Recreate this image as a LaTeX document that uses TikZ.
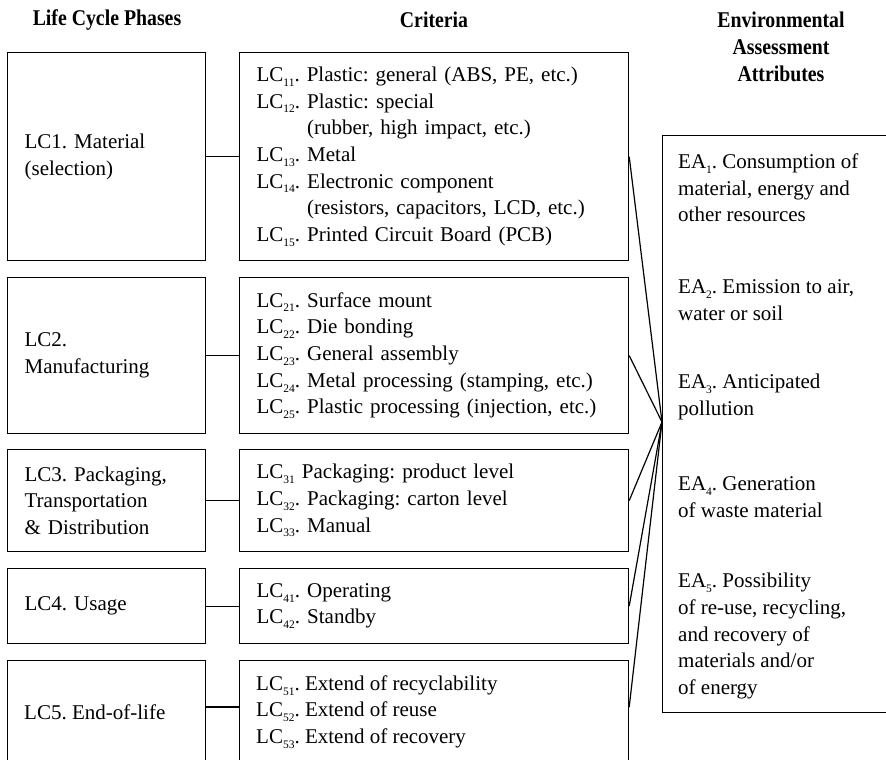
\documentclass[tikz,border=0pt]{standalone}
\usepackage{fontspec}
\setmainfont{Liberation Serif}
\newfontfamily\hdrfont[FakeStretch=0.88]{Liberation Serif}
\newcommand{\lcs}[1]{\raisebox{-0.5ex}{\fontsize{11.5}{11.5}\selectfont #1}}
\newcommand{\ind}{\hphantom{LC\lcs{12}.}\ }
\frenchspacing
\begin{document}
\begin{tikzpicture}[x=1pt,y=-1pt,
  every node/.style={font=\frenchspacing\fontsize{21}{26.7}\selectfont},
  box/.style={draw,line width=1.2pt,anchor=north west,align=left,inner xsep=17pt,inner ysep=0pt},
  lbox/.style={box,text width=164pt},
  cbox/.style={box,text width=355pt},
  txt/.style={anchor=west,align=left,inner sep=0pt},
  hdr/.style={font=\hdrfont\bfseries\fontsize{22.5}{27}\selectfont,align=center,inner sep=0pt},
  conn/.style={line width=1.2pt}]
\clip (0,0) rectangle (886,760);
\useasboundingbox (0,0) rectangle (886,760);

% headers
\node[hdr] (h1) at (107,20) {Life Cycle Phases};
\node[hdr] (h2) at (434,20) {Criteria};
\node[hdr] (h3) at (781,47) {Environmental\\Assessment\\Attributes};

% left boxes
\node[lbox,minimum height=208pt] (lc1) at (7,52) {LC1. Material\\(selection)};
\node[lbox,minimum height=156pt] (lc2) at (7,277) {LC2.\\Manufacturing};
\node[lbox,minimum height=102pt] (lc3) at (7,449) {LC3. Packaging,\\Transportation\\\& Distribution};
\node[lbox,minimum height=75pt] (lc4) at (7,568) {LC4. Usage};
\node[lbox,minimum height=200pt] (lc5) at (7,660) {};
\node[txt] (lc5t) at (24,712) {LC5. End-of-life};

% criteria boxes
\node[cbox,minimum height=208pt] (cr1) at (239,52) {%
LC\lcs{11}. Plastic: general (ABS, PE, etc.)\\
LC\lcs{12}. Plastic: special\\
\ind(rubber, high impact, etc.)\\
LC\lcs{13}. Metal\\
LC\lcs{14}. Electronic component\\
\ind(resistors, capacitors, LCD, etc.)\\
LC\lcs{15}. Printed Circuit Board (PCB)};
\node[cbox,minimum height=156pt] (cr2) at (239,277) {%
LC\lcs{21}. Surface mount\\
LC\lcs{22}. Die bonding\\
LC\lcs{23}. General assembly\\
LC\lcs{24}. Metal processing (stamping, etc.)\\
LC\lcs{25}. Plastic processing (injection, etc.)};
\node[cbox,minimum height=102pt] (cr3) at (239,449) {%
LC\lcs{31} Packaging: product level\\
LC\lcs{32}. Packaging: carton level\\
LC\lcs{33}. Manual};
\node[cbox,minimum height=75pt] (cr4) at (239,568) {%
LC\lcs{41}. Operating\\
LC\lcs{42}. Standby};
\node[cbox,minimum height=200pt] (cr5) at (239,660) {};
\node[txt] (cr5t) at (256,712) {%
LC\lcs{51}. Extend of recyclability\\
LC\lcs{52}. Extend of reuse\\
LC\lcs{53}. Extend of recovery};

% environmental box
\node[draw,line width=1.2pt,anchor=north west,minimum width=260pt,minimum height=577pt,inner sep=0pt] (ea) at (662,135) {};
\node[txt] (ea1) at (678,188) {EA\lcs{1}. Consumption of\\material, energy and\\other resources};
\node[txt] (ea2) at (678,300) {EA\lcs{2}. Emission to air,\\water or soil};
\node[txt] (ea3) at (678,397) {EA\lcs{3}. Anticipated\\pollution};
\node[txt] (ea4) at (678,497) {EA\lcs{4}. Generation\\of waste material};
\node[txt] (ea5) at (678,636) {EA\lcs{5}. Possibility\\of re-use, recycling,\\and recovery of\\materials and/or\\of energy};

% connectors
\coordinate (hub) at (662,422);
\path (lc5.north east) ++(0,47) coordinate (c5a);
\path (cr5.north east) ++(0,47) coordinate (c5b);
\draw[conn] (lc1.east) -- (cr1.west);
\draw[conn] (lc2.east) -- (cr2.west);
\draw[conn] (lc3.east) -- (cr3.west);
\draw[conn] (lc4.east) -- (cr4.west);
\draw[conn] (c5a) -- (c5a -| cr5.west);
\draw[conn] (cr1.east) -- (hub);
\draw[conn] (cr2.east) -- (hub);
\draw[conn] (cr3.east) -- (hub);
\draw[conn] (cr4.east) -- (hub);
\draw[conn] (c5b) -- (hub);
\end{tikzpicture}
\end{document}
